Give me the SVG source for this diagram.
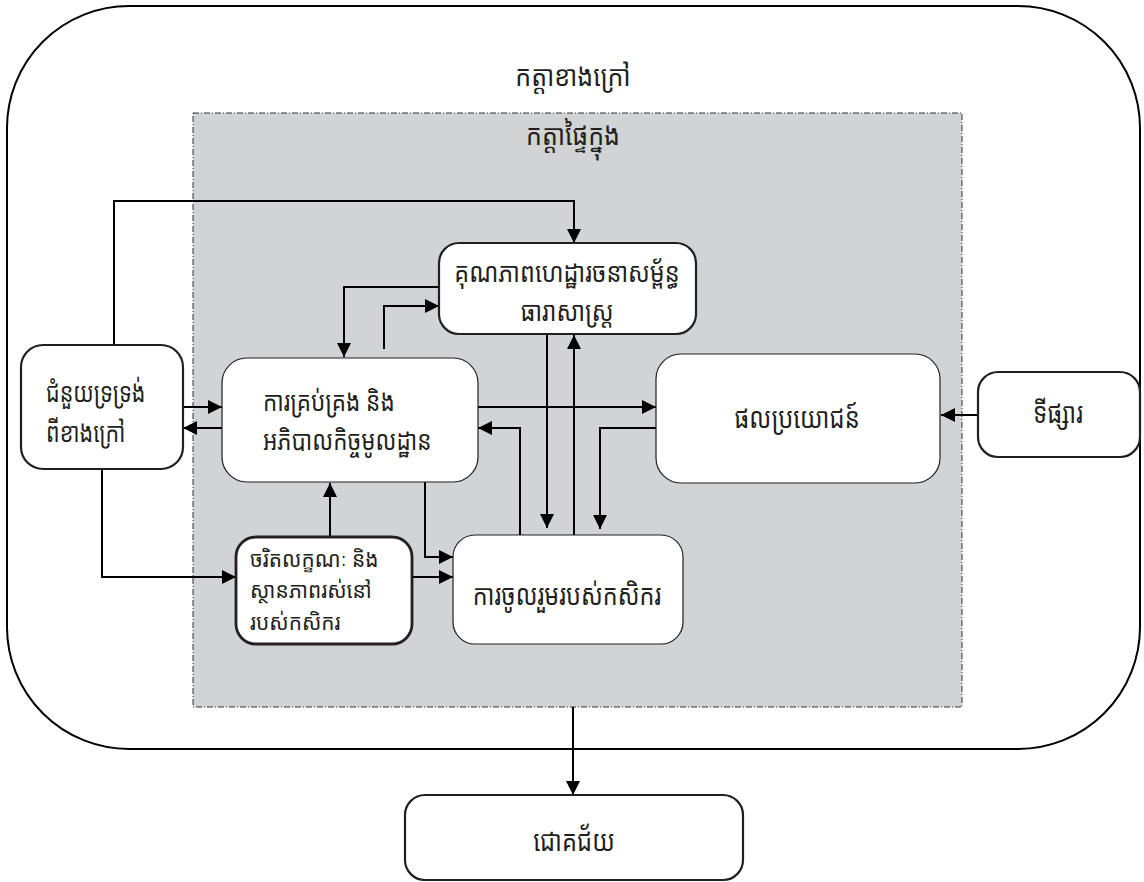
<svg xmlns="http://www.w3.org/2000/svg" width="1144" height="882" viewBox="0 0 1144 882">
<defs>
<style>
.t{font-family:"Noto Sans Khmer","Noto Serif Khmer","Khmer OS","Liberation Sans",sans-serif;font-size:25px;fill:#231f20;dominant-baseline:central}
.s{font-size:22px}
.c{text-anchor:middle}
.box{fill:#fff;stroke:#231f20}
.thick{stroke-width:2.2}
.thin{stroke-width:1.2}
.ln{fill:none;stroke:#000;stroke-width:2;marker-end:url(#ah)}
</style>
<marker id="ah" markerUnits="userSpaceOnUse" markerWidth="14" markerHeight="14" refX="12" refY="6" orient="auto" viewBox="0 0 12 12">
<path d="M0,0 L12,6 L0,12 Z" fill="#000"/>
</marker>
</defs>
<rect x="0" y="0" width="1144" height="882" fill="#fff"/>
<g id="outer">
<rect x="7" y="6" width="1133" height="743" rx="122" ry="122" fill="#fff" stroke="#000" stroke-width="2"/>
<text class="t c" transform="translate(573,75) scale(1,1.15)">កត្តាខាងក្រៅ</text>
</g>
<g id="inner">
<rect x="193" y="113" width="769" height="594" fill="#d1d3d4" stroke="#333" stroke-width="1" stroke-dasharray="6,2,1,2"/>
<text class="t c" transform="translate(573,134) scale(1,1.15)">កត្តាផ្ទៃក្នុង</text>
</g>
<g id="connectors">
<path class="ln" d="M114,345 V201 H574 V243"/>
<path class="ln" d="M439,287 H344 V357"/>
<path class="ln" d="M384,349 V306 H439"/>
<path class="ln" d="M183,407 H222"/>
<path class="ln" d="M222,428 H183"/>
<path class="ln" d="M477,407 H656"/>
<path class="ln" d="M520,535 V428 H478"/>
<path class="ln" d="M547,334 V528"/>
<path class="ln" d="M574,535 V335"/>
<path class="ln" d="M656,428 H600 V529"/>
<path class="ln" d="M978,415 H941"/>
<path class="ln" d="M102,469 V577 H236"/>
<path class="ln" d="M412,577 H453"/>
<path class="ln" d="M425,482 V557 H453"/>
<path class="ln" d="M330,537 V483"/>
<path class="ln" d="M573,707 V795"/>
</g>
<g id="nodeA">
<rect class="box thick" x="21" y="345" width="162" height="124" rx="22"/>
<text class="t" transform="translate(46,391) scale(0.86,1.1)">ជំនួយទ្រទ្រង់</text>
<text class="t" transform="translate(46,431) scale(0.86,1.1)">ពីខាងក្រៅ</text>
</g>
<g id="nodeB">
<rect class="box thin" x="222" y="358" width="256" height="124" rx="25"/>
<text class="t" transform="translate(263,400) scale(0.9,1.1)">ការគ្រប់គ្រង និង</text>
<text class="t" transform="translate(263,439) scale(0.9,1.1)">អភិបាលកិច្ចមូលដ្ឋាន</text>
</g>
<g id="nodeC">
<rect class="box thick" x="439" y="243" width="257" height="91" rx="20"/>
<text class="t c" transform="translate(567,271) scale(0.94,1.1)">គុណភាពហេដ្ឋារចនាសម្ព័ន្ធ</text>
<text class="t c" transform="translate(567,310) scale(0.94,1.1)">ធារាសាស្ត្រ</text>
</g>
<g id="nodeD">
<rect class="box thin" x="656" y="354" width="284" height="129" rx="25"/>
<text class="t c" transform="translate(797,417) scale(0.95,1.15)">ផលប្រយោជន៍</text>
</g>
<g id="nodeE">
<rect class="box thick" x="978" y="372" width="162" height="85" rx="20"/>
<text class="t c" transform="translate(1058,412) scale(0.95,1.15)">ទីផ្សារ</text>
</g>
<g id="nodeF">
<rect class="box" stroke-width="2.8" x="236" y="537" width="176" height="107" rx="20"/>
<text class="t s" transform="translate(250,558) scale(0.95,1)">ចរិតលក្ខណៈ និង</text>
<text class="t s" transform="translate(250,589) scale(0.95,1)">ស្ថានភាពរស់នៅ</text>
<text class="t s" transform="translate(250,621) scale(0.95,1)">របស់កសិករ</text>
</g>
<g id="nodeG">
<rect class="box thin" x="453" y="535" width="230" height="109" rx="22"/>
<text class="t c" transform="translate(567,594) scale(0.94,1.15)">ការចូលរួមរបស់កសិករ</text>
</g>
<g id="nodeH">
<rect class="box thick" x="405" y="795" width="338" height="85" rx="20"/>
<text class="t c" transform="translate(574,840) scale(0.95,1.15)">ជោគជ័យ</text>
</g>
</svg>
